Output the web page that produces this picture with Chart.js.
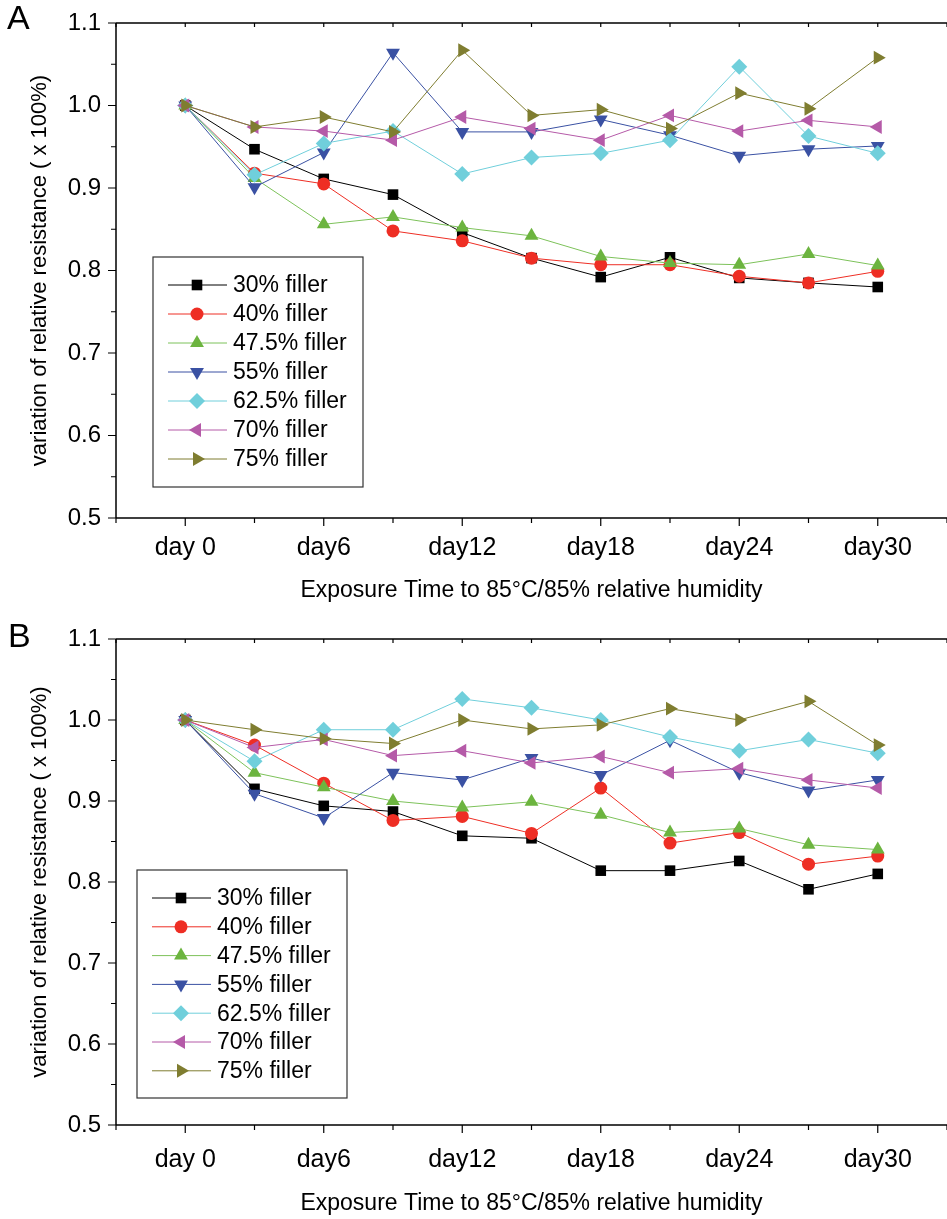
<!DOCTYPE html>
<html>
<head>
<meta charset="utf-8">
<script src="https://cdn.jsdelivr.net/npm/chart.js"></script>
<style>
  body { margin: 0; background: #fff; }
  #wrap { position: relative; width: 947px; height: 1219px; }
  canvas { position: absolute; left: 0; }
  .letter { position: absolute; font-family: "Liberation Sans", Arial, sans-serif; font-size: 34px; color: #000; }
</style>
</head>
<body>
<div id="wrap">
  <canvas id="chartA" width="947" height="610" style="top:0"></canvas>
  <canvas id="chartB" width="947" height="609" style="top:610px"></canvas>
  <div class="letter" style="left:7px;top:-2px">A</div>
  <div class="letter" style="left:8px;top:616px">B</div>
</div>
<script>
// x positions (days of exposure)
var days = [0, 3, 6, 9, 12, 15, 18, 21, 24, 27, 30];
var seriesNames = ["30% filler", "40% filler", "47.5% filler", "55% filler", "62.5% filler", "70% filler", "75% filler"];

// panel A values
var a30 = [1.0, 0.947, 0.911, 0.892, 0.846, 0.815, 0.792, 0.816, 0.791, 0.785, 0.780];
var a40 = [1.0, 0.918, 0.905, 0.848, 0.836, 0.815, 0.807, 0.807, 0.793, 0.785, 0.799];
var a47 = [1.0, 0.912, 0.856, 0.865, 0.852, 0.842, 0.817, 0.809, 0.807, 0.820, 0.806];
var a55 = [1.0, 0.901, 0.943, 1.064, 0.968, 0.968, 0.983, 0.964, 0.939, 0.947, 0.951];
var a62 = [1.0, 0.916, 0.954, 0.969, 0.917, 0.937, 0.942, 0.958, 1.047, 0.963, 0.942];
var a70 = [1.0, 0.974, 0.969, 0.958, 0.986, 0.972, 0.958, 0.988, 0.969, 0.982, 0.974];
var a75 = [1.0, 0.974, 0.986, 0.968, 1.067, 0.988, 0.995, 0.972, 1.015, 0.996, 1.058];

// panel B values
var b30 = [1.0, 0.915, 0.894, 0.887, 0.857, 0.854, 0.814, 0.814, 0.826, 0.791, 0.810];
var b40 = [1.0, 0.969, 0.922, 0.876, 0.881, 0.860, 0.916, 0.848, 0.861, 0.822, 0.832];
var b47 = [1.0, 0.935, 0.917, 0.900, 0.892, 0.899, 0.883, 0.861, 0.866, 0.846, 0.840];
var b55 = [1.0, 0.909, 0.879, 0.935, 0.926, 0.953, 0.932, 0.975, 0.935, 0.913, 0.926];
var b62 = [1.0, 0.949, 0.988, 0.988, 1.026, 1.015, 1.000, 0.979, 0.962, 0.976, 0.959];
var b70 = [1.0, 0.966, 0.976, 0.956, 0.962, 0.947, 0.955, 0.935, 0.940, 0.926, 0.916];
var b75 = [1.0, 0.988, 0.977, 0.971, 1.000, 0.989, 0.994, 1.014, 1.000, 1.023, 0.969];

// marker styles per series
var styles = [
  { color: "#000000", line: "#000000", point: "rect", rotation: 0, radius: 7.5 },
  { color: "#ee2e24", line: "#ee2e24", point: "circle", rotation: 0, radius: 6.5 },
  { color: "#6cb43f", line: "#7dc25a", point: "triangle", rotation: 0, radius: 8 },
  { color: "#3a51a3", line: "#3a51a3", point: "triangle", rotation: 180, radius: 8 },
  { color: "#70cfdb", line: "#70cfdb", point: "rectRot", rotation: 0, radius: 8 },
  { color: "#b55aa8", line: "#b55aa8", point: "triangle", rotation: 270, radius: 8 },
  { color: "#7f7d30", line: "#7f7d30", point: "triangle", rotation: 90, radius: 8 }
];

var FONT = "'Liberation Sans', Arial, sans-serif";

// draw a marker for the legend
function drawMarker(ctx, st, x, y) {
  var r = st.radius;
  ctx.save();
  ctx.fillStyle = st.color;
  ctx.translate(x, y);
  ctx.rotate(st.rotation * Math.PI / 180);
  ctx.beginPath();
  if (st.point === "rect") {
    var s = Math.SQRT1_2 * r;
    ctx.rect(-s, -s, 2 * s, 2 * s);
  } else if (st.point === "circle") {
    ctx.arc(0, 0, r, 0, Math.PI * 2);
  } else if (st.point === "rectRot") {
    ctx.moveTo(-r, 0); ctx.lineTo(0, -r); ctx.lineTo(r, 0); ctx.lineTo(0, r);
  } else {
    for (var k = 0; k < 3; k++) {
      var a = k * 2 * Math.PI / 3;
      var px = Math.sin(a) * r, py = -Math.cos(a) * r;
      if (k === 0) ctx.moveTo(px, py); else ctx.lineTo(px, py);
    }
  }
  ctx.closePath();
  ctx.fill();
  ctx.restore();
}

// axes frame + ticks + legend box
var framePlugin = {
  id: "frame",
  afterDraw: function (chart) {
    var ctx = chart.ctx;
    var area = chart.chartArea;
    var xs = chart.scales.x, ys = chart.scales.y;
    ctx.save();
    ctx.strokeStyle = "#000";
    ctx.lineWidth = 1.5;
    ctx.beginPath();
    ctx.moveTo(area.left, area.top); ctx.lineTo(area.right, area.top);
    ctx.moveTo(area.left, area.top); ctx.lineTo(area.left, area.bottom);
    ctx.moveTo(area.left, area.bottom); ctx.lineTo(area.right, area.bottom);
    ctx.stroke();
    ctx.lineWidth = 1.2;
    ctx.beginPath();
    for (var d = -3; d <= 33; d += 3) {
      var px = xs.getPixelForValue(d);
      var len = (d % 6 === 0) ? 8 : 5;
      ctx.moveTo(px, area.bottom); ctx.lineTo(px, area.bottom + len);
      ctx.moveTo(px, area.top); ctx.lineTo(px, area.top + 4);
    }
    for (var i = 0; i <= 12; i++) {
      var v = 0.5 + i * 0.05;
      var py = ys.getPixelForValue(v);
      var l2 = (i % 2 === 0) ? 8 : 5;
      ctx.moveTo(area.left, py); ctx.lineTo(area.left - l2, py);
    }
    ctx.stroke();

    // legend
    var lg = chart.options.plugins.frame;
    ctx.lineWidth = 1.2;
    ctx.strokeStyle = "#333";
    ctx.strokeRect(lg.x, lg.y, lg.w, lg.h);
    ctx.font = "23px " + FONT;
    ctx.textBaseline = "middle";
    ctx.textAlign = "left";
    for (var j = 0; j < seriesNames.length; j++) {
      var ry = lg.y + 28 + j * lg.step;
      ctx.strokeStyle = styles[j].line;
      ctx.lineWidth = 1;
      ctx.beginPath();
      ctx.moveTo(lg.x + 15, ry); ctx.lineTo(lg.x + 74, ry);
      ctx.stroke();
      drawMarker(ctx, styles[j], lg.x + 44, ry);
      ctx.fillStyle = "#000";
      ctx.fillText(seriesNames[j], lg.x + 80, ry + 1);
    }
    ctx.restore();
  }
};

function makePanel(id, values, geo) {
  var datasets = [];
  for (var i = 0; i < values.length; i++) {
    var pts = [];
    for (var k = 0; k < days.length; k++) pts.push({ x: days[k], y: values[i][k] });
    datasets.push({
      label: seriesNames[i],
      data: pts,
      order: values.length - i, // later series on top
      borderColor: styles[i].line,
      backgroundColor: styles[i].color,
      pointBackgroundColor: styles[i].color,
      pointBorderColor: styles[i].color,
      pointBorderWidth: 0,
      pointStyle: styles[i].point,
      pointRotation: styles[i].rotation,
      pointRadius: styles[i].radius,
      pointHoverRadius: styles[i].radius,
      borderWidth: 1,
      tension: 0
    });
  }
  return new Chart(document.getElementById(id).getContext("2d"), {
    type: "line",
    data: { datasets: datasets },
    options: {
      responsive: false,
      animation: false,
      layout: { autoPadding: false, padding: { top: geo.top, left: 0, right: 0, bottom: 0 } },
      plugins: {
        legend: { display: false },
        tooltip: { enabled: false },
        frame: geo.legend
      },
      scales: {
        x: {
          type: "linear",
          min: -3,
          max: 33,
          grid: { display: false, drawTicks: false },
          border: { display: false },
          afterFit: function (s) {
            s.height = geo.xHeight;
            s.paddingLeft = 0;
            s.paddingRight = 0;
          },
          ticks: {
            stepSize: 3,
            autoSkip: false,
            maxRotation: 0,
            padding: geo.xPad,
            color: "#000",
            font: { family: FONT, size: 25 },
            callback: function (v) {
              if (v < 0 || v > 30 || v % 6 !== 0) return "";
              return v === 0 ? "day 0" : "day" + v;
            }
          },
          title: {
            display: true,
            text: "Exposure Time to 85\u00B0C/85% relative humidity",
            color: "#000",
            font: { family: FONT, size: 23 },
            padding: { top: 0, bottom: geo.titlePad }
          }
        },
        y: {
          min: 0.5,
          max: 1.1,
          grid: { display: false, drawTicks: false },
          border: { display: false },
          afterFit: function (s) {
            s.width = 116;
            s.paddingTop = 0;
            s.paddingBottom = 0;
          },
          ticks: {
            stepSize: 0.05,
            autoSkip: false,
            padding: 15,
            color: "#000",
            font: { family: FONT, size: 24 },
            callback: function (v) {
              var n = Math.round(v * 100);
              return n % 10 === 0 ? (n / 100).toFixed(1) : "";
            }
          },
          title: {
            display: true,
            text: "variation of relative resistance ( x 100%)",
            color: "#000",
            font: { family: FONT, size: 22 },
            padding: { top: 27, bottom: 0 }
          }
        }
      }
    },
    plugins: [framePlugin]
  });
}

makePanel("chartA", [a30, a40, a47, a55, a62, a70, a75], {
  top: 23, xHeight: 92, xPad: 15, titlePad: 6,
  legend: { x: 153, y: 257, w: 210, h: 230, step: 29 }
});
makePanel("chartB", [b30, b40, b47, b55, b62, b70, b75], {
  top: 29, xHeight: 94, xPad: 20, titlePad: 2,
  legend: { x: 137, y: 260, w: 210, h: 228, step: 28.8 }
});
</script>
</body>
</html>
